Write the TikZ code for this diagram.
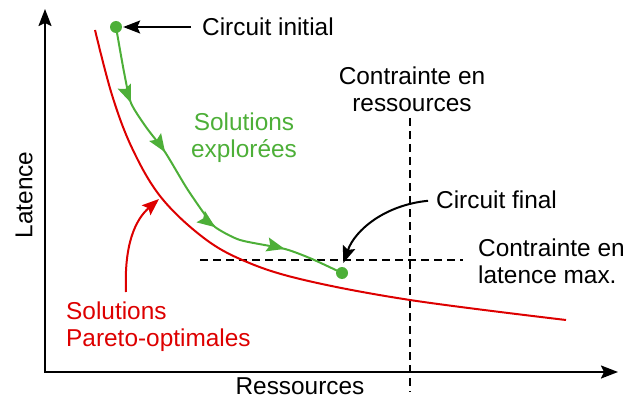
\documentclass[tikz,border=0pt]{standalone}
\usepackage{fontspec}
\setmainfont{Liberation Sans}
\usetikzlibrary{arrows.meta,decorations.markings}
\definecolor{pgreen}{RGB}{77,175,56}
\definecolor{pred}{RGB}{221,0,0}
\begin{document}
\begin{tikzpicture}[x=1pt,y=-1pt,
  lbl/.style={font=\fontsize{24.4}{27}\selectfont, inner sep=0pt, align=left},
  axis/.style={line width=2pt, {Stealth[length=17pt,width=13pt,inset=3pt]}-{Stealth[length=17pt,width=13pt,inset=3pt]}},
  tipb/.style={-{Stealth[length=17pt,width=13pt,inset=3pt]}},
  dashline/.style={line width=2pt, dash pattern=on 8pt off 5pt},
  dot/.style={circle, fill=pgreen, minimum size=12pt, inner sep=0pt},
  gmark/.style={decoration={markings,
     mark=at position 0.213 with {\arrow{Stealth[length=18pt,width=14pt,inset=3pt]}},
     mark=at position 0.378 with {\arrow{Stealth[length=18pt,width=14pt,inset=3pt]}},
     mark=at position 0.627 with {\arrow{Stealth[length=18pt,width=14pt,inset=3pt]}},
     mark=at position 0.829 with {\arrow{Stealth[length=18pt,width=14pt,inset=3pt]}}},
     postaction={decorate}}
]
\useasboundingbox (0,0) rectangle (624,401);
% axes
\coordinate (ytip) at (45,9);
\coordinate (O) at (45,372);
\coordinate (xtip) at (618,372);
\draw[axis] (ytip) -- (O) -- (xtip);
\node[lbl, rotate=90] (lat) at (24,195) {Latence};
\node[lbl] (res) at (300,386) {Ressources};
% constraints
\coordinate (vtop) at (410,118);
\coordinate (vbot) at (410,392);
\draw[dashline] (vtop) -- (vbot);
\coordinate (hl) at (200,260);
\coordinate (hr) at (463,260);
\draw[dashline] (hl) -- (hr);
\node[lbl, align=center] (cres) at (412,89) {Contrainte en\\ressources};
\node[lbl, anchor=west] (clat) at (478,261) {Contrainte en\\latence max.};
% pareto curve
\draw[pred, line width=2pt] plot[smooth, tension=0.6] coordinates
  {(95,30) (112,95) (132,148) (160,196) (200,235) (240,259) (300,279) (410,300) (566,320)};
% explored solutions
\node[dot] (init) at (116,27) {};
\node[dot] (fin) at (342,273) {};
\draw[pgreen, line width=2pt, gmark] plot[smooth, tension=0.4] coordinates
  {(116,27) (124,72) (131,103) (146,127) (165,152) (186,187) (203,212) (215,227) (240,240) (285,249) (312,259) (342,273)};
\node[lbl, pgreen, align=center] (expl) at (244,138) {Solutions\\explorées};
% circuit initial
\node[lbl, anchor=west] (ci) at (202,27) {Circuit initial};
\draw[line width=2pt, tipb, shorten <=11pt, shorten >=1pt] (ci.west) -- (init.east);
% circuit final
\node[lbl, anchor=west] (cf) at (436,200) {Circuit final};
\draw[line width=2pt, tipb, shorten <=8pt, shorten >=4pt] (cf.west) .. controls (385,205) and (355,230) .. (fin.north);
% pareto label
\node[lbl, pred, anchor=north west] (par) at (66,302) {Solutions\\Pareto-optimales};
\coordinate (pstart) at (126,292);
\coordinate (pend) at (159,199);
\draw[pred, line width=2pt, tipb] (pstart) .. controls (124,245) and (135,220) .. (pend);
\end{tikzpicture}
\end{document}
